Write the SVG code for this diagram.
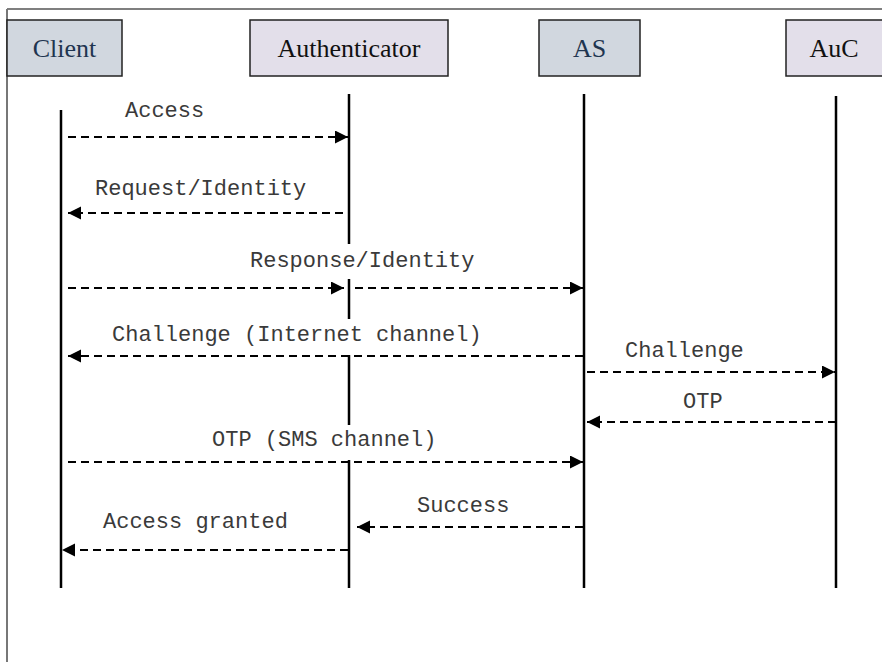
<svg xmlns="http://www.w3.org/2000/svg" width="882" height="662" viewBox="0 0 882 662">
<style>
.box{stroke:#222;stroke-width:1.5}
.blue{fill:#d1d7df}
.lilac{fill:#e3dfea}
.name{font-family:"Liberation Serif","Times New Roman",serif;font-size:26px;text-anchor:middle}
.life{stroke:#000;stroke-width:2.5;fill:none}
.msg{stroke:#000;stroke-width:2;stroke-dasharray:8 5;fill:none;marker-end:url(#ah)}
.lbl{font-family:"Liberation Mono","Courier New",monospace;font-size:22px;fill:#3a3a3a}
</style>
<defs>
<marker id="ah" markerUnits="userSpaceOnUse" markerWidth="14" markerHeight="14" refX="13" refY="6.5" orient="auto">
<path d="M0,0 L13,6.5 L0,13 Z" fill="#000"/>
</marker>
</defs>
<rect width="882" height="662" fill="#fff"/>
<line x1="7" y1="9" x2="882" y2="9" stroke="#000" stroke-width="1.2"/>
<line x1="7" y1="9" x2="7" y2="662" stroke="#777" stroke-width="2"/>

<g id="client">
<rect class="box blue" x="7" y="20" width="115" height="56"/>
<text class="name" x="64.5" y="57" fill="#1f3550">Client</text>
<line class="life" x1="61" y1="110" x2="61" y2="588"/>
</g>
<g id="authenticator">
<rect class="box lilac" x="250" y="20" width="198" height="56"/>
<text class="name" x="349" y="57" fill="#111">Authenticator</text>
<path class="life" d="M349,94 V244 M349,279 V319 M349,355 V425 M349,460 V588"/>
</g>
<g id="as">
<rect class="box blue" x="539" y="20" width="101" height="56"/>
<text class="name" x="589.5" y="57" fill="#1f3550">AS</text>
<line class="life" x1="584" y1="94" x2="584" y2="588"/>
</g>
<g id="auc">
<rect class="box lilac" x="786" y="20" width="110" height="56"/>
<text class="name" x="834" y="57" fill="#111">AuC</text>
<line class="life" x1="836" y1="96" x2="836" y2="588"/>
</g>

<g id="connectors">
<line class="msg" x1="68" y1="137" x2="348" y2="137"/>
<line class="msg" x1="343" y1="213" x2="68" y2="213"/>
<line class="msg" x1="68" y1="288" x2="344" y2="288"/>
<line class="msg" x1="355" y1="288" x2="583" y2="288"/>
<line class="msg" x1="583" y1="356" x2="68" y2="356"/>
<line class="msg" x1="587" y1="372" x2="835" y2="372"/>
<line class="msg" x1="836" y1="422" x2="587" y2="422"/>
<line class="msg" x1="68" y1="462" x2="583" y2="462"/>
<line class="msg" x1="583" y1="527" x2="357" y2="527"/>
<line class="msg" x1="348" y1="550" x2="62" y2="550"/>
</g>
<g id="labels">
<text class="lbl" x="125" y="117">Access</text>
<text class="lbl" x="95" y="195">Request/Identity</text>
<text class="lbl" x="250" y="267">Response/Identity</text>
<text class="lbl" x="112" y="341">Challenge (Internet channel)</text>
<text class="lbl" x="625" y="357">Challenge</text>
<text class="lbl" x="683" y="408">OTP</text>
<text class="lbl" x="212" y="446">OTP (SMS channel)</text>
<text class="lbl" x="417" y="512">Success</text>
<text class="lbl" x="103" y="528">Access granted</text>
</g>
</svg>
